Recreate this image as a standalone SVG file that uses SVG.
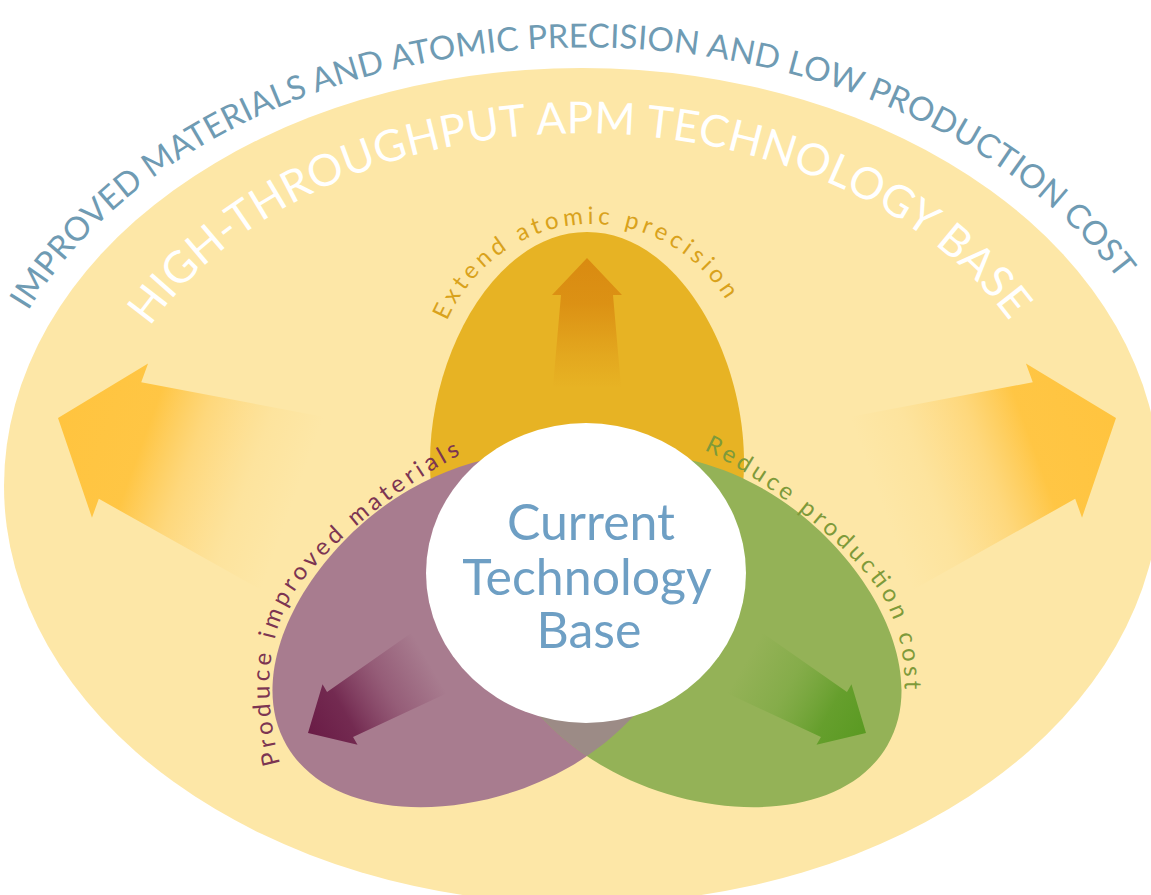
<svg xmlns="http://www.w3.org/2000/svg" xmlns:xlink="http://www.w3.org/1999/xlink" width="1151" height="895" viewBox="0 0 1151 895">
  <defs>
    <style>
      text { font-family: Lato, "Noto Sans", "Liberation Sans", sans-serif; }
      .outer { font-size: 33px; fill: #6f9bb3; }
      .band { font-size: 44px; fill: #ffffff; font-weight: 400; }
      .egg-lbl { font-size: 24px; }
      .core { font-size: 50px; fill: #6e9fc4; text-anchor: middle; }
    </style>
    <!-- egg shape, narrow end up, origin at the hub centre -->
    <path id="egg" d="M 0 -340 C 90 -340 157 -220 157 -110 C 157 0 90 100 0 100 C -90 100 -157 0 -157 -110 C -157 -220 -90 -340 0 -340 Z"/>
    <!-- arrows point along -x, tip at origin -->
    <path id="bigArrow" d="M0 0 L66 -82 L66 -62 L250 -92 L250 92 L66 62 L66 82 Z"/>
    <path id="smallArrow" d="M0 0 L37 -35 L37 -26 L140 -35 L140 35 L37 26 L37 35 Z"/>
    <linearGradient id="gBig" gradientUnits="userSpaceOnUse" x1="0" y1="0" x2="250" y2="0">
      <stop offset="0" stop-color="#ffc43f"/>
      <stop offset="0.35" stop-color="#ffc43f" stop-opacity="0.95"/>
      <stop offset="0.55" stop-color="#ffc850" stop-opacity="0.5"/>
      <stop offset="0.8" stop-color="#ffcf66" stop-opacity="0.15"/>
      <stop offset="1" stop-color="#ffcf66" stop-opacity="0"/>
    </linearGradient>
    <linearGradient id="gUp" gradientUnits="userSpaceOnUse" x1="0" y1="0" x2="130" y2="0">
      <stop offset="0" stop-color="#d8860f" stop-opacity="0.9"/>
      <stop offset="0.35" stop-color="#d8860f" stop-opacity="0.75"/>
      <stop offset="0.75" stop-color="#d8860f" stop-opacity="0.25"/>
      <stop offset="1" stop-color="#d8860f" stop-opacity="0"/>
    </linearGradient>
    <linearGradient id="gPlum" gradientUnits="userSpaceOnUse" x1="0" y1="0" x2="140" y2="0">
      <stop offset="0" stop-color="#6a1c46"/>
      <stop offset="0.3" stop-color="#6a1c46" stop-opacity="0.85"/>
      <stop offset="0.65" stop-color="#7a2f56" stop-opacity="0.4"/>
      <stop offset="1" stop-color="#7a2f56" stop-opacity="0"/>
    </linearGradient>
    <linearGradient id="gLeaf" gradientUnits="userSpaceOnUse" x1="0" y1="0" x2="140" y2="0">
      <stop offset="0" stop-color="#5a9a22"/>
      <stop offset="0.3" stop-color="#5a9a22" stop-opacity="0.8"/>
      <stop offset="0.65" stop-color="#6aa232" stop-opacity="0.35"/>
      <stop offset="1" stop-color="#6aa232" stop-opacity="0"/>
    </linearGradient>
    <clipPath id="clipPlum">
      <use href="#egg" transform="translate(587 572) rotate(-120) scale(1.02)"/>
    </clipPath>
    <!-- baselines for curved labels -->
    <path id="pOuter" d="M 28 311 A 608 443 0 0 1 1124 287"/>
    <path id="pBand" d="M 150 327 A 485 355 0 0 1 1012 324"/>
    <path id="pExtend" d="M 447 321 A 160 168 0 0 1 729 305"/>
    <path id="pProduce" d="M 280 764 C 264 702 263 634 299 585 C 335 537 414 476 470 450"/>
    <path id="pReduce" d="M 704 450 C 760 476 839 537 875 585 C 911 634 910 702 894 764"/>
  </defs>

  <rect width="1151" height="895" fill="#ffffff"/>

  <!-- outer field -->
  <g id="apm-base">
    <ellipse cx="582" cy="486" rx="578" ry="418" fill="#fde7a7"/>
  </g>

  <!-- outward arrows on the outer field -->
  <g id="connectors">
    <use href="#bigArrow" fill="url(#gBig)" transform="translate(58 418) rotate(20)"/>
    <use href="#bigArrow" fill="url(#gBig)" transform="translate(1174 0) scale(-1 1) translate(58 418) rotate(20)"/>
  </g>

  <!-- three development directions -->
  <g id="atomic-precision">
    <use href="#egg" fill="#e7b324" transform="translate(587 572)"/>
    <use href="#smallArrow" fill="url(#gUp)" transform="translate(587 258) rotate(90)"/>
  </g>
  <g id="improved-materials">
    <use href="#egg" fill="#a87c8f" transform="translate(587 572) rotate(-120) scale(1.02)"/>
  </g>
  <g id="production-cost">
    <use href="#egg" fill="#94b257" transform="translate(587 572) rotate(120) scale(1.02)"/>
    <g clip-path="url(#clipPlum)">
      <use href="#egg" fill="#9c8b86" transform="translate(587 572) rotate(120) scale(1.02)"/>
    </g>
  </g>
  <g id="direction-arrows">
    <use href="#smallArrow" fill="url(#gPlum)" transform="translate(308 733) rotate(-30)"/>
    <use href="#smallArrow" fill="url(#gLeaf)" transform="translate(1174 0) scale(-1 1) translate(308 733) rotate(-30)"/>
  </g>

  <!-- hub -->
  <g id="current-base">
    <ellipse cx="586" cy="573" rx="160" ry="150" fill="#ffffff"/>
    <text class="core" x="591" y="540">Current</text>
    <text class="core" x="587" y="595">Technology</text>
    <text class="core" x="589" y="648">Base</text>
  </g>

  <!-- curved labels -->
  <g id="labels">
    <text class="outer"><textPath href="#pOuter" textLength="1245" lengthAdjust="spacing">IMPROVED MATERIALS AND ATOMIC PRECISION AND LOW PRODUCTION COST</textPath></text>
    <text class="band"><textPath href="#pBand" textLength="975" lengthAdjust="spacing">HIGH-THROUGHPUT APM TECHNOLOGY BASE</textPath></text>
    <text class="egg-lbl" fill="#d9a21c"><textPath href="#pExtend" textLength="345" lengthAdjust="spacing">Extend atomic precision</textPath></text>
    <text class="egg-lbl" fill="#7c3552"><textPath href="#pProduce" textLength="395" lengthAdjust="spacing">Produce improved materials</textPath></text>
    <text class="egg-lbl" fill="#7e9a3a"><textPath href="#pReduce" textLength="330" lengthAdjust="spacing">Reduce production cost</textPath></text>
  </g>
</svg>
